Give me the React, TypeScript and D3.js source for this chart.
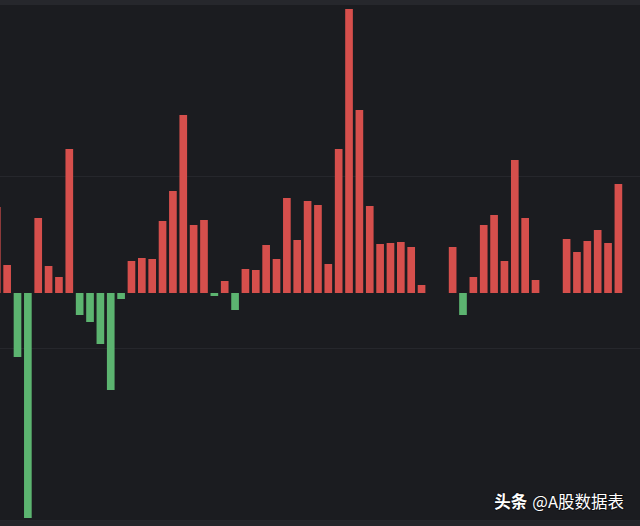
import React, { useEffect, useRef } from 'react';
import * as d3 from 'd3';

// daily net values (null = no bar that day)
const values: (number | null)[] = [
  17.2, 5.6, -12.8, -45.0, 15.0, 5.4, 3.2, 28.8, -4.4, -5.8,
  -10.2, -19.4, -1.2, 6.4, 7.0, 6.8, 14.4, 20.4, 35.6, 13.6,
  14.6, -0.6, 2.4, -3.4, 4.8, 4.6, 9.6, 6.8, 19.0, 10.6,
  18.4, 17.6, 5.8, 28.8, 56.8, 36.6, 17.4, 9.8, 10.0, 10.2,
  9.2, 1.6, null, null, 9.2, -4.4, 3.2, 13.6, 15.6, 6.4,
  26.6, 15.0, 2.6, null, null, 10.8, 8.2, 10.4, 12.6, 10.0,
  21.8, null, null,
];
const categories = values.map((_, i) => `D${i + 1}`);
// gridlines belong to the (hidden) price axis
const gridTicks = [0, 1, 2, 3];

const App: React.FC = () => {
  const chartRef = useRef<SVGSVGElement | null>(null);

  useEffect(() => {
    document.body.style.margin = '0';
    const width = 640;
    const height = 526;
    const svg = d3.select(chartRef.current);
    svg.selectAll('*').remove();

    svg.append('rect').attr('width', width).attr('height', height).attr('fill', '#1b1c20');
    // top edge
    svg.append('rect').attr('width', width).attr('height', 4).attr('fill', '#26272c');
    // bottom strip
    svg.append('rect').attr('y', 521).attr('width', width).attr('height', 5).attr('fill', '#24252a');

    const x = d3
      .scaleBand()
      .domain(categories)
      .range([-8.4, 644.3])
      .paddingInner(0.26)
      .paddingOuter(0.13);

    const k = 5;
    const y = d3.scaleLinear().domain([-50, 60]).range([293 + 50 * k, 293 - 60 * k]);

    const g = d3.scaleLinear().domain([0, 3]).range([520, 4]);

    svg
      .append('g')
      .selectAll('line')
      .data(gridTicks)
      .join('line')
      .attr('x1', 0)
      .attr('x2', width)
      .attr('y1', (d) => g(d) + 0.5)
      .attr('y2', (d) => g(d) + 0.5)
      .attr('stroke', '#26272c')
      .attr('stroke-width', 1);

    const data = categories
      .map((c, i) => ({ key: c, value: values[i] }))
      .filter((d) => d.value !== null) as { key: string; value: number }[];

    svg
      .append('g')
      .selectAll('rect')
      .data(data)
      .join('rect')
      .attr('x', (d) => x(d.key)!)
      .attr('y', (d) => Math.min(y(d.value), y(0)))
      .attr('height', (d) => Math.max(1.5, Math.abs(y(d.value) - y(0))))
      .attr('width', x.bandwidth())
      .attr('fill', (d) => (d.value >= 0 ? '#d64f4c' : '#5cb470'));

    const wm = svg
      .append('text')
      .attr('x', 624)
      .attr('y', 508)
      .attr('text-anchor', 'end')
      .attr('fill', '#ffffff')
      .attr('font-family', '"Noto Sans CJK SC", "Noto Sans", sans-serif')
      .attr('font-size', 16.5)
      .style('paint-order', 'stroke')
      .attr('stroke', 'rgba(0,0,0,0.35)')
      .attr('stroke-width', 2);
    wm.append('tspan').attr('font-weight', 700).text('头条');
    wm.append('tspan').attr('dx', 5).text('@A股数据表');
  }, []);

  return <svg ref={chartRef} width={640} height={526} style={{ display: 'block' }}></svg>;
};

export default App;
